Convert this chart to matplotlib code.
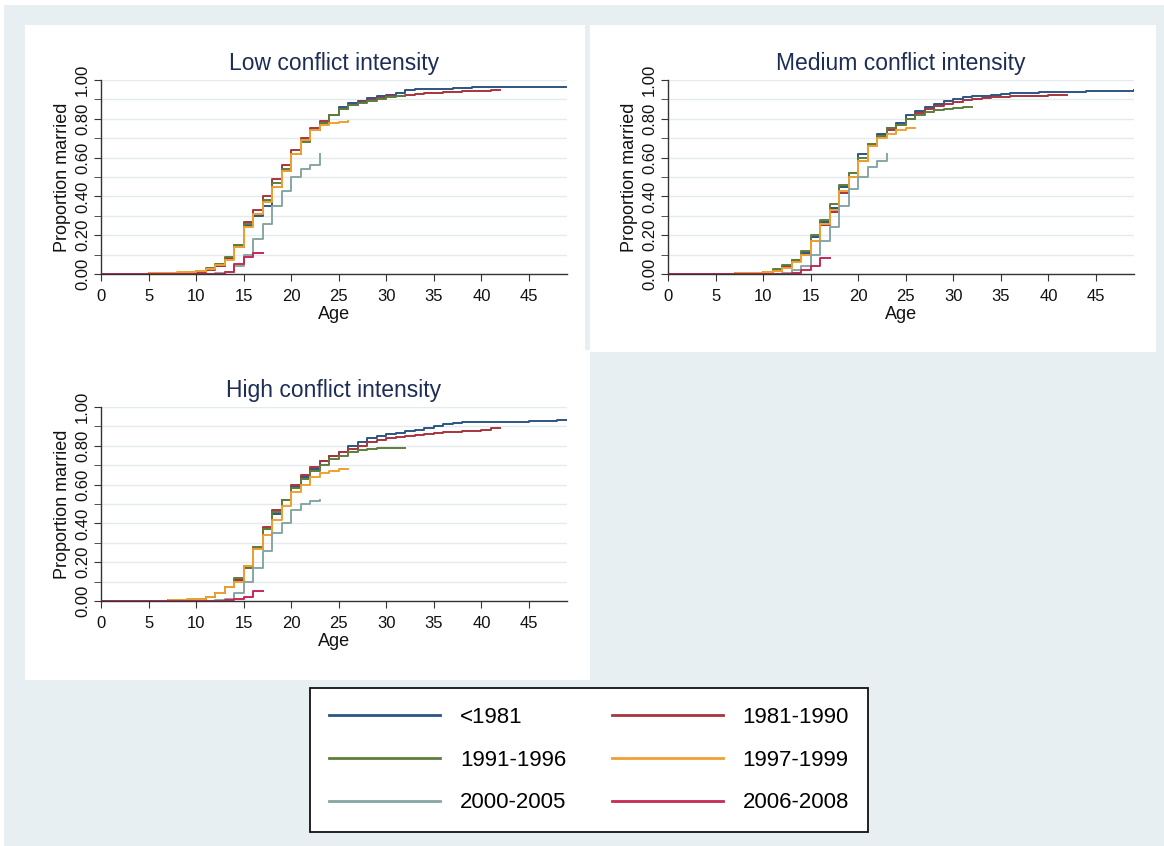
import matplotlib
matplotlib.use("Agg")
import matplotlib.pyplot as plt
from matplotlib.patches import Rectangle
import numpy as np

plt.rcParams['font.family'] = ['Liberation Sans', 'DejaVu Sans']

# ---------------- data (proportion married by age, ages 0..end) ----------------
cohorts = ["<1981", "1981-1990", "1991-1996", "1997-1999", "2000-2005", "2006-2008"]
colors = ["#2b5583", "#a8343f", "#5e7d3c", "#f0a030", "#86a6a4", "#c42a55"]
panel_titles = ["Low conflict intensity", "Medium conflict intensity", "High conflict intensity"]

low_pre1981 = [0, 0, 0, 0, 0.002, 0.003, 0.004, 0.005, 0.007, 0.01,
               0.015, 0.025, 0.04, 0.08, 0.14, 0.25, 0.30, 0.35, 0.45, 0.53,
               0.62, 0.69, 0.74, 0.78, 0.82, 0.86, 0.88, 0.89, 0.905, 0.915,
               0.925, 0.935, 0.95, 0.952, 0.954, 0.955, 0.956, 0.957, 0.958, 0.962,
               0.962, 0.962, 0.962, 0.962, 0.962, 0.962, 0.962, 0.962, 0.962, 0.962]
low_1981_1990 = [0, 0, 0, 0, 0.002, 0.003, 0.004, 0.005, 0.006, 0.008,
                 0.012, 0.02, 0.04, 0.08, 0.15, 0.27, 0.33, 0.40, 0.49, 0.56,
                 0.64, 0.70, 0.75, 0.79, 0.82, 0.85, 0.87, 0.885, 0.895, 0.905,
                 0.915, 0.92, 0.925, 0.93, 0.932, 0.935, 0.938, 0.94, 0.942, 0.944,
                 0.945, 0.946, 0.946]
low_1991_1996 = [0, 0, 0, 0, 0.002, 0.003, 0.004, 0.005, 0.007, 0.01,
                 0.015, 0.03, 0.05, 0.09, 0.15, 0.26, 0.31, 0.38, 0.47, 0.54,
                 0.62, 0.68, 0.74, 0.78, 0.82, 0.85, 0.87, 0.88, 0.89, 0.90,
                 0.91, 0.915, 0.92]
low_1997_1999 = [0, 0, 0, 0, 0.002, 0.003, 0.004, 0.005, 0.008, 0.01,
                 0.015, 0.025, 0.045, 0.07, 0.14, 0.24, 0.31, 0.37, 0.45, 0.53,
                 0.62, 0.69, 0.74, 0.77, 0.78, 0.785, 0.79]
low_2000_2005 = [0, 0, 0, 0, 0, 0, 0, 0, 0, 0,
                 0, 0, 0.003, 0.01, 0.04, 0.10, 0.18, 0.26, 0.35, 0.43,
                 0.50, 0.54, 0.56, 0.62]
low_2006_2008 = [0, 0, 0, 0, 0, 0, 0, 0, 0, 0,
                 0, 0, 0, 0.01, 0.05, 0.09, 0.11, 0.11]

med_pre1981 = [0, 0, 0, 0, 0, 0.001, 0.002, 0.003, 0.004, 0.006,
               0.01, 0.02, 0.04, 0.07, 0.11, 0.19, 0.27, 0.34, 0.45, 0.52,
               0.62, 0.67, 0.72, 0.75, 0.78, 0.82, 0.84, 0.86, 0.875, 0.89,
               0.90, 0.91, 0.915, 0.92, 0.925, 0.93, 0.932, 0.934, 0.935, 0.936,
               0.937, 0.938, 0.939, 0.94, 0.941, 0.942, 0.943, 0.944, 0.945, 0.946]
med_1981_1990 = [0, 0, 0, 0, 0, 0.001, 0.002, 0.003, 0.004, 0.005,
                 0.008, 0.018, 0.035, 0.065, 0.10, 0.17, 0.25, 0.32, 0.42, 0.50,
                 0.58, 0.66, 0.71, 0.74, 0.77, 0.80, 0.83, 0.85, 0.865, 0.875,
                 0.885, 0.895, 0.90, 0.905, 0.91, 0.913, 0.915, 0.917, 0.918, 0.92,
                 0.921, 0.922, 0.923]
med_1991_1996 = [0, 0, 0, 0, 0, 0.001, 0.002, 0.003, 0.004, 0.006,
                 0.01, 0.025, 0.045, 0.07, 0.12, 0.20, 0.28, 0.36, 0.46, 0.52,
                 0.60, 0.67, 0.71, 0.75, 0.77, 0.80, 0.82, 0.835, 0.845, 0.85,
                 0.855, 0.86, 0.862]
med_1997_1999 = [0, 0, 0, 0, 0, 0.001, 0.002, 0.003, 0.004, 0.006,
                 0.008, 0.015, 0.03, 0.06, 0.10, 0.17, 0.26, 0.33, 0.43, 0.50,
                 0.58, 0.66, 0.70, 0.72, 0.74, 0.75, 0.75]
med_2000_2005 = [0, 0, 0, 0, 0, 0, 0, 0, 0, 0,
                 0, 0, 0.005, 0.02, 0.04, 0.10, 0.17, 0.24, 0.35, 0.44,
                 0.50, 0.55, 0.58, 0.62]
med_2006_2008 = [0, 0, 0, 0, 0, 0, 0, 0, 0, 0,
                 0, 0, 0, 0.005, 0.02, 0.04, 0.08, 0.08]

high_pre1981 = [0, 0, 0, 0, 0, 0.001, 0.002, 0.003, 0.004, 0.006,
                0.01, 0.02, 0.04, 0.07, 0.11, 0.17, 0.27, 0.37, 0.45, 0.52,
                0.59, 0.64, 0.68, 0.72, 0.75, 0.77, 0.80, 0.82, 0.84, 0.85,
                0.86, 0.865, 0.875, 0.88, 0.89, 0.90, 0.91, 0.92, 0.922, 0.922,
                0.922, 0.922, 0.922, 0.922, 0.922, 0.926, 0.926, 0.926, 0.935, 0.935]
high_1981_1990 = [0, 0, 0, 0, 0, 0.001, 0.002, 0.003, 0.004, 0.006,
                  0.01, 0.02, 0.04, 0.07, 0.11, 0.18, 0.28, 0.38, 0.47, 0.52,
                  0.60, 0.65, 0.69, 0.72, 0.75, 0.77, 0.785, 0.80, 0.82, 0.83,
                  0.84, 0.845, 0.85, 0.855, 0.86, 0.865, 0.87, 0.872, 0.875, 0.878,
                  0.88, 0.89, 0.89]
high_1991_1996 = [0, 0, 0, 0, 0, 0.001, 0.002, 0.003, 0.004, 0.006,
                  0.01, 0.02, 0.04, 0.07, 0.12, 0.17, 0.28, 0.37, 0.46, 0.52,
                  0.58, 0.63, 0.67, 0.70, 0.73, 0.75, 0.77, 0.78, 0.785, 0.79,
                  0.79, 0.79, 0.79]
high_1997_1999 = [0, 0, 0, 0, 0, 0.001, 0.002, 0.005, 0.006, 0.008,
                  0.01, 0.02, 0.04, 0.07, 0.10, 0.18, 0.27, 0.34, 0.42, 0.49,
                  0.56, 0.60, 0.64, 0.66, 0.67, 0.68, 0.68]
high_2000_2005 = [0, 0, 0, 0, 0, 0, 0, 0, 0, 0,
                  0, 0, 0.003, 0.01, 0.04, 0.10, 0.17, 0.26, 0.35, 0.40,
                  0.47, 0.50, 0.515, 0.52]
high_2006_2008 = [0, 0, 0, 0, 0, 0, 0, 0, 0, 0,
                  0, 0, 0, 0.003, 0.01, 0.02, 0.05, 0.05]

panels = [
    [low_pre1981, low_1981_1990, low_1991_1996, low_1997_1999, low_2000_2005, low_2006_2008],
    [med_pre1981, med_1981_1990, med_1991_1996, med_1997_1999, med_2000_2005, med_2006_2008],
    [high_pre1981, high_1981_1990, high_1991_1996, high_1997_1999, high_2000_2005, high_2006_2008],
]

x_ticks = [0, 5, 10, 15, 20, 25, 30, 35, 40, 45]
y_ticks = [0.0, 0.2, 0.4, 0.6, 0.8, 1.0]
y_ticklabels = ["0.00", "0.20", "0.40", "0.60", "0.80", "1.00"]
y_minor = [0.1, 0.3, 0.5, 0.7, 0.9]

# ---------------- figure ----------------
W, H = 1164, 846
fig = plt.figure(figsize=(W / 100, H / 100), dpi=100)
fig.patch.set_facecolor("#e7eff2")


def px_rect(x0, y0, x1, y1, color):
    fig.add_artist(Rectangle((x0 / W, 1 - y1 / H), (x1 - x0) / W, (y1 - y0) / H,
                             transform=fig.transFigure, facecolor=color,
                             edgecolor="none", zorder=-10))


px_rect(0, 0, W, 5, "white")
px_rect(0, 0, 4, H, "white")
px_rect(25, 25, 585, 350, "white")
px_rect(590, 25, 1156, 352, "white")
px_rect(25, 350, 590, 680, "white")

axes_px = [(101, 80, 567, 274), (668, 80, 1134, 274), (101, 407, 567, 601)]

title_color = "#1d2d56"
all_lines = None
for (x0, y0, x1, y1), title, series in zip(axes_px, panel_titles, panels):
    ax = fig.add_axes([x0 / W, 1 - y1 / H, (x1 - x0) / W, (y1 - y0) / H])
    ax.set_facecolor("white")
    lines = []
    for vals, c, lab in zip(series, colors, cohorts):
        ages = np.arange(len(vals))
        ln, = ax.plot(ages, vals, drawstyle="steps-post", color=c, lw=1.4, label=lab)
        lines.append(ln)
    if all_lines is None:
        all_lines = lines
    ax.set_xlim(0, 49)
    ax.set_ylim(0, 1)
    ax.set_xticks(x_ticks)
    ax.set_yticks(y_ticks)
    ax.set_yticklabels(y_ticklabels, rotation=90, va="center")
    ax.set_yticks(y_minor, minor=True)
    ax.grid(True, which="both", axis="y", color="#e4ebef", lw=1.0)
    ax.set_axisbelow(True)
    for s in ["top", "right"]:
        ax.spines[s].set_visible(False)
    for s in ["left", "bottom"]:
        ax.spines[s].set_color("#333333")
        ax.spines[s].set_linewidth(1.0)
    ax.tick_params(axis="both", which="major", labelsize=12, length=5,
                   color="#333333", labelcolor="#111111")
    ax.tick_params(axis="x", which="major", pad=6)
    ax.tick_params(axis="y", which="major", pad=3)
    ax.tick_params(axis="y", which="minor", length=5, color="#333333")
    ax.set_xlabel("Age", fontsize=13, color="#111111", labelpad=1)
    ax.set_ylabel("Proportion married", fontsize=13, color="#111111", labelpad=3)
    ax.set_title(title, fontsize=16.5, color=title_color, pad=7)

order = [0, 2, 4, 1, 3, 5]
leg = fig.legend([all_lines[i] for i in order], [cohorts[i] for i in order],
                 ncol=2, loc="upper left",
                 bbox_to_anchor=(310 / W, 1 - 826 / H, 558 / W, 138 / H),
                 mode="expand", fontsize=16, frameon=True, fancybox=False,
                 edgecolor="#111111", facecolor="white", framealpha=1,
                 handlelength=5.0, handletextpad=0.9, labelspacing=0.98,
                 borderpad=0.85, columnspacing=2.0, borderaxespad=0)
leg.get_frame().set_linewidth(1.3)
for h in leg.legend_handles:
    h.set_linewidth(2.0)

fig.savefig("out.png", dpi=100, facecolor=fig.get_facecolor())
